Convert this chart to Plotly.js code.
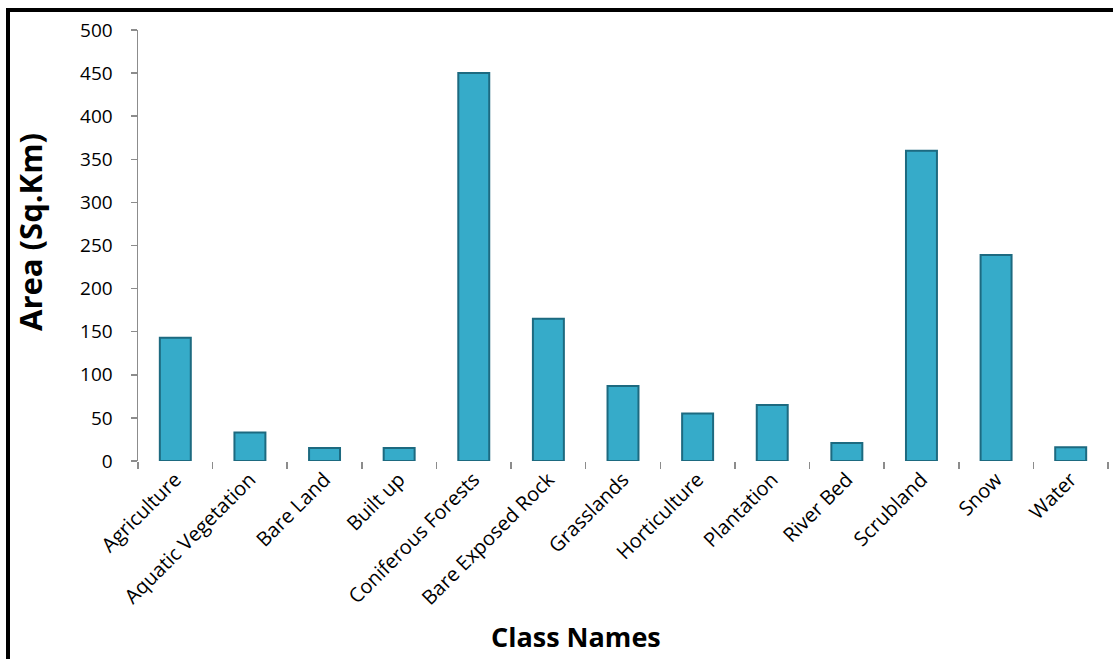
<!DOCTYPE html>
<html>
<head>
<meta charset="utf-8">
<script src="https://cdn.plot.ly/plotly-3.0.1.min.js"></script>
<style>
html,body{margin:0;padding:0;background:#fff;overflow:hidden;}
#frame{position:absolute;left:6px;top:8px;width:1120px;height:700px;border-top:4px solid #000;border-left:4px solid #000;box-sizing:border-box;pointer-events:none;}
#chart{position:absolute;left:0;top:0;width:1113px;height:659px;}
</style>
</head>
<body>
<div id="chart"></div>
<div id="frame"></div>
<script>
const categories = ["Agriculture","Aquatic Vegetation","Bare Land","Built up","Coniferous Forests","Bare Exposed Rock","Grasslands","Horticulture","Plantation","River Bed","Scrubland","Snow","Water"];
const areas = [143, 33, 15, 15, 450, 165, 87, 55, 65, 21, 360, 239, 16];
const yTicks = [0,50,100,150,200,250,300,350,400,450,500];

const trace = {
  type: 'bar',
  x: categories,
  y: areas,
  width: 0.415,
  marker: {
    color: '#36ABC9',
    line: {color: '#1D6A80', width: 2}
  },
  hoverinfo: 'x+y'
};

const plotL = 138, plotR = 5, plotT = 30, plotB = 198;
const W = 1113, H = 659;

const layout = {
  width: W,
  height: H,
  margin: {l: plotL, r: plotR, t: plotT, b: plotB},
  paper_bgcolor: '#ffffff',
  plot_bgcolor: '#ffffff',
  font: {family: 'Open Sans, sans-serif', color: '#000'},
  showlegend: false,
  xaxis: {
    type: 'category',
    tickangle: -45,
    tickfont: {size: 20, family: 'Open Sans, sans-serif', color: '#000'},
    showline: false,
    ticks: 'outside',
    tickson: 'boundaries',
    ticklen: 7,
    tickcolor: '#8c8c8c',
    tickwidth: 1.5,
    showgrid: false,
    zeroline: false,
    ticklabelstandoff: 2,
    automargin: false
  },
  yaxis: {
    range: [0, 500],
    tickvals: yTicks,
    ticktext: yTicks.map(String),
    tickfont: {size: 19, family: 'Open Sans, sans-serif', color: '#000'},
    showline: true,
    linecolor: '#8c8c8c',
    linewidth: 1.5,
    ticks: 'outside',
    ticklen: 6,
    tickcolor: '#8c8c8c',
    tickwidth: 1.5,
    showgrid: false,
    zeroline: false,
    ticklabelstandoff: 14,
    automargin: false
  },
  annotations: [{
    text: 'Class Names',
    xref: 'paper', yref: 'paper',
    x: (576 - plotL) / (W - plotL - plotR),
    y: -0.408,
    xanchor: 'center', yanchor: 'middle',
    showarrow: false,
    font: {size: 27, family: 'Open Sans, sans-serif', weight: 'bold', color: '#000'}
  }, {
    text: 'Area (Sq.Km)',
    xref: 'paper', yref: 'paper',
    x: (30 - plotL) / (W - plotL - plotR),
    y: (H - plotB - 232) / (H - plotT - plotB),
    xanchor: 'center', yanchor: 'middle',
    textangle: -90,
    showarrow: false,
    font: {size: 31, family: 'Open Sans, sans-serif', weight: 'bold', color: '#000'}
  }]
};

Plotly.newPlot('chart', [trace], layout, {displayModeBar: false, staticPlot: true});
</script>
</body>
</html>
